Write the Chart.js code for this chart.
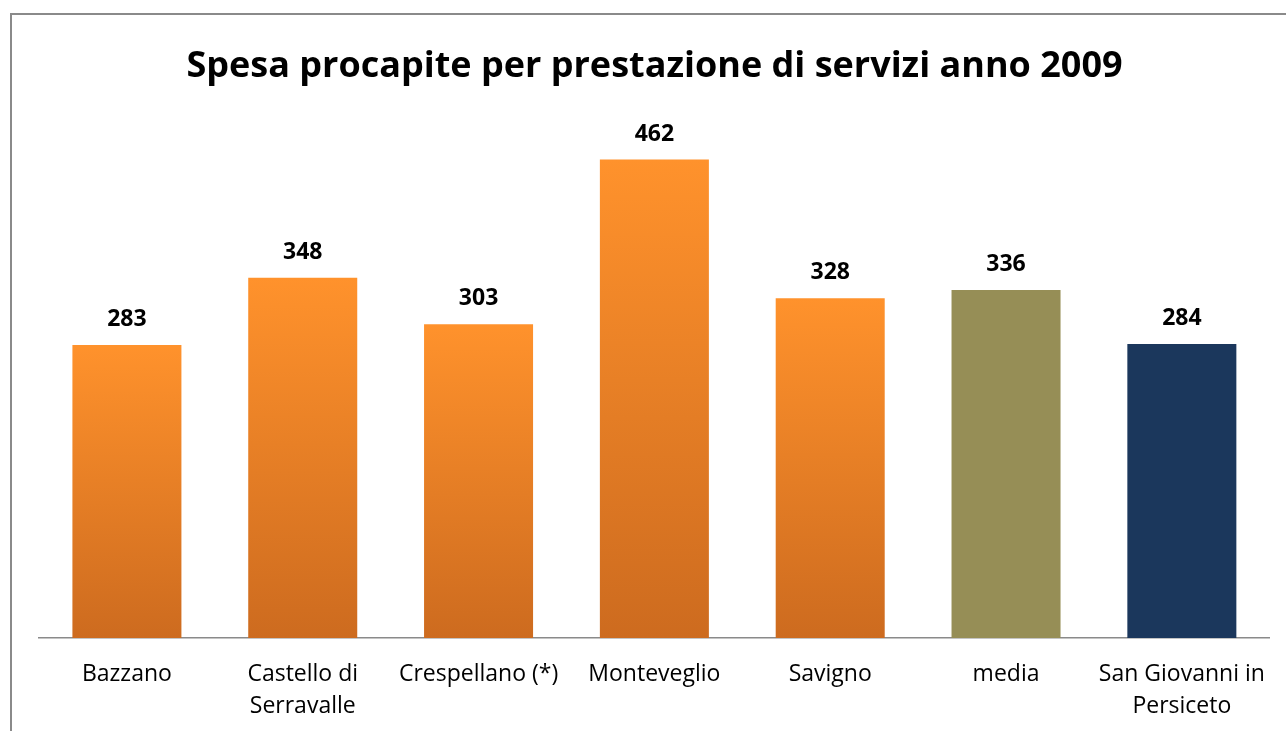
<!DOCTYPE html>
<html>
<head>
<meta charset="utf-8">
<script src="https://cdn.jsdelivr.net/npm/chart.js@4/dist/chart.umd.min.js"></script>
<style>
  html, body { margin: 0; padding: 0; background: #fff; overflow: hidden; }
  #wrap { position: relative; width: 1286px; height: 731px; }
</style>
</head>
<body>
<div id="wrap"><canvas id="spesaChart"></canvas></div>
<script>
// dati
const comuni = [
    'Bazzano',
    ['Castello di', 'Serravalle'],
    'Crespellano (*)',
    'Monteveglio',
    'Savigno',
    'media',
    ['San Giovanni in', 'Persiceto']
];
const spesa = [283, 348, 303, 462, 328, 336, 284];
const tipo = ['comune', 'comune', 'comune', 'comune', 'comune', 'media', 'sgp'];

const FONT = "'Open Sans', 'DejaVu Sans', sans-serif";

// colore delle barre: gradiente arancione per ogni barra, tinte piene per media e San Giovanni
function barColor(context) {
    const i = context.dataIndex;
    if (tipo[i] === 'media') return '#968E56';
    if (tipo[i] === 'sgp') return '#1B375C';
    const chart = context.chart;
    const y = chart.scales && chart.scales.y;
    if (!chart.chartArea || !y) return '#F08428';
    const top = y.getPixelForValue(spesa[i]);
    const bottom = y.getPixelForValue(0);
    const g = chart.ctx.createLinearGradient(0, top, 0, bottom);
    g.addColorStop(0, '#FF922C');
    g.addColorStop(1, '#CD6B1F');
    return g;
}

// cornice grigia (lato sinistro e superiore)
const cornice = {
    id: 'cornice',
    beforeDraw(chart) {
        const ctx = chart.ctx;
        ctx.save();
        ctx.strokeStyle = '#8a8a8a';
        ctx.lineWidth = 2;
        ctx.beginPath();
        ctx.moveTo(11, chart.height);
        ctx.lineTo(11, 14);
        ctx.lineTo(chart.width, 14);
        ctx.stroke();
        ctx.restore();
    }
};

// etichette dei valori sopra le barre
const valori = {
    id: 'valori',
    afterDatasetsDraw(chart) {
        const ctx = chart.ctx;
        const meta = chart.getDatasetMeta(0);
        ctx.save();
        ctx.font = "bold 23px " + FONT;
        ctx.fillStyle = '#000';
        ctx.textAlign = 'center';
        ctx.textBaseline = 'alphabetic';
        meta.data.forEach((bar, i) => {
            ctx.fillText(String(spesa[i]), bar.x, bar.y - 19);
        });
        ctx.restore();
    }
};

const ctx = document.getElementById('spesaChart').getContext('2d');

new Chart(ctx, {
    type: 'bar',
    data: {
        labels: comuni,
        datasets: [{
            label: 'Spesa procapite',
            data: spesa,
            backgroundColor: barColor,
            borderWidth: 0,
            categoryPercentage: 0.62,
            barPercentage: 1
        }]
    },
    options: {
        responsive: true,
        maintainAspectRatio: false,
        animation: false,
        layout: {
            padding: { left: 39, right: 16, top: 0, bottom: -11 }
        },
        plugins: {
            legend: { display: false },
            tooltip: { enabled: false },
            title: {
                display: true,
                text: 'Spesa procapite per prestazione di servizi anno 2009',
                color: '#000',
                font: { family: FONT, size: 36, weight: 'bold', lineHeight: 1.2 },
                padding: { top: 45, bottom: 32 }
            }
        },
        scales: {
            x: {
                grid: { drawOnChartArea: false, drawTicks: false },
                border: { color: '#8a8a8a', width: 1.5 },
                ticks: {
                    color: '#000',
                    padding: 20,
                    maxRotation: 0,
                    autoSkip: false,
                    font: { family: FONT, size: 23, lineHeight: 1.39 }
                }
            },
            y: {
                display: false,
                min: 0,
                max: 500
            }
        }
    },
    plugins: [cornice, valori]
});
</script>
</body>
</html>
